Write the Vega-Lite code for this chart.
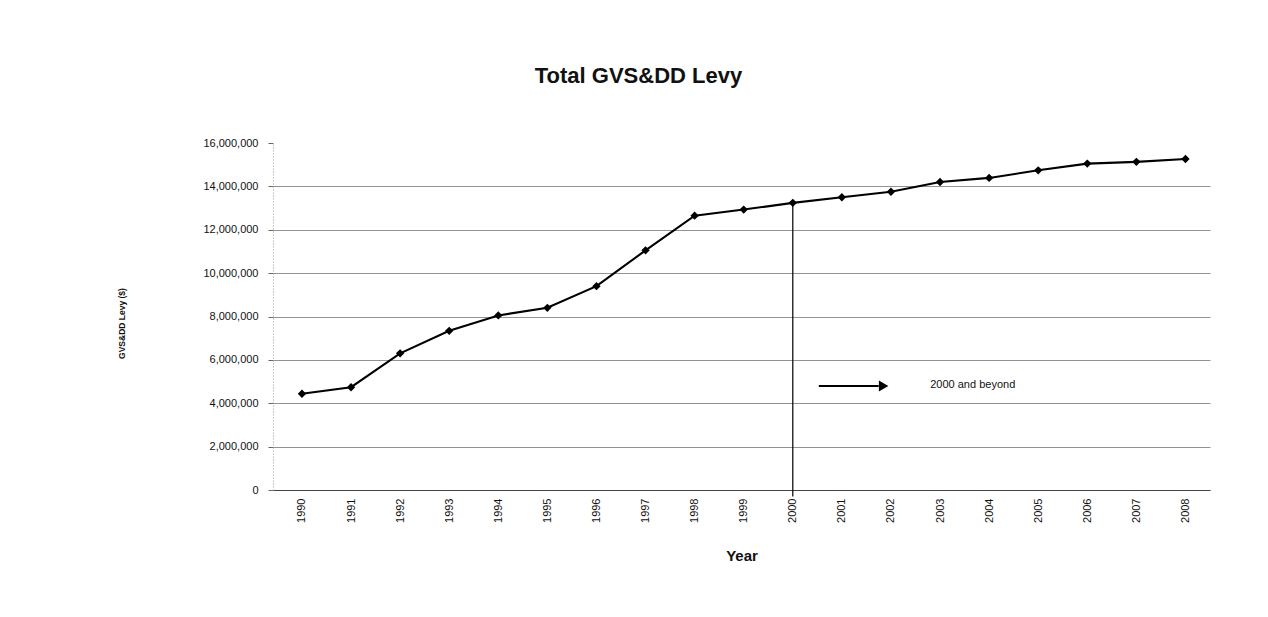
{
  "$schema": "https://vega.github.io/schema/vega-lite/v6.json",
  "width": 937,
  "height": 347,
  "autosize": "none",
  "padding": {"left": 273, "top": 143, "right": 58, "bottom": 127},
  "background": "white",
  "config": {"view": {"stroke": null}, "font": "Liberation Sans"},
  "title": {"text": "Total GVS&DD Levy", "fontSize": 22, "fontWeight": "bold", "font": "Liberation Sans", "color": "#111", "anchor": "middle", "dx": -103, "offset": 32, "baseline": "alphabetic"},
  "datasets": {
    "levy": [
      {"year": 1990, "levy": 4440000},
      {"year": 1991, "levy": 4740000},
      {"year": 1992, "levy": 6300000},
      {"year": 1993, "levy": 7340000},
      {"year": 1994, "levy": 8050000},
      {"year": 1995, "levy": 8400000},
      {"year": 1996, "levy": 9400000},
      {"year": 1997, "levy": 11050000},
      {"year": 1998, "levy": 12650000},
      {"year": 1999, "levy": 12930000},
      {"year": 2000, "levy": 13240000},
      {"year": 2001, "levy": 13500000},
      {"year": 2002, "levy": 13750000},
      {"year": 2003, "levy": 14200000},
      {"year": 2004, "levy": 14390000},
      {"year": 2005, "levy": 14740000},
      {"year": 2006, "levy": 15050000},
      {"year": 2007, "levy": 15130000},
      {"year": 2008, "levy": 15260000}
    ],
    "marker": [{"year": 2000, "levy": 13240000, "base": -300000}],
    "arrow": [{"x1": 2000.53, "x2": 2001.75, "y": 4800000}],
    "head": [{"x": 2001.85, "y": 4800000}],
    "note": [{"x": 2002.8, "y": 4850000, "label": "2000 and beyond"}]
  },
  "layer": [
    {
      "data": {"name": "levy"},
      "mark": {"type": "line", "color": "black", "strokeWidth": 2.1},
      "encoding": {
        "x": {
          "field": "year", "type": "quantitative",
          "scale": {"domain": [1989.41, 2008.5], "nice": false, "zero": false},
          "axis": {
            "title": "Year", "titleFontSize": 15, "titleFontWeight": "bold", "titleColor": "#111",
            "titleY": 65, "titleBaseline": "middle",
            "values": [1990, 1991, 1992, 1993, 1994, 1995, 1996, 1997, 1998, 1999, 2000, 2001, 2002, 2003, 2004, 2005, 2006, 2007, 2008],
            "format": "d", "labelAngle": -90, "labelFontSize": 11, "labelColor": "#111", "labelPadding": 8,
            "labelFlush": false, "labelOverlap": false, "grid": false, "ticks": false, "domainColor": "#444"
          }
        },
        "y": {
          "field": "levy", "type": "quantitative",
          "scale": {"domain": [0, 16000000], "nice": false, "zero": true},
          "axis": {
            "title": "GVS&DD Levy ($)", "titleFontSize": 8.5, "titleFontWeight": "bold", "titleColor": "#111",
            "titleX": -152, "titleY": 180, "titleBaseline": "middle", "titleAngle": -90,
            "values": [0, 2000000, 4000000, 6000000, 8000000, 10000000, 12000000, 14000000, 16000000],
            "format": ",.0f", "labelFontSize": 11, "labelColor": "#111", "labelPadding": 10,
            "tickSize": 5, "tickColor": "#666", "domainColor": "#999", "domainDash": [1, 2],
            "grid": true, "gridWidth": 0.8,
            "gridColor": {"condition": {"test": "datum.value >= 16000000", "value": "transparent"}, "value": "#777"}
          }
        }
      }
    },
    {
      "data": {"name": "levy"},
      "mark": {"type": "point", "filled": true, "shape": "diamond", "size": 70, "color": "black", "opacity": 1},
      "encoding": {
        "x": {"field": "year", "type": "quantitative"},
        "y": {"field": "levy", "type": "quantitative"}
      }
    },
    {
      "data": {"name": "marker"},
      "mark": {"type": "rule", "color": "black", "strokeWidth": 1.2},
      "encoding": {
        "x": {"field": "year", "type": "quantitative"},
        "y": {"field": "levy", "type": "quantitative"},
        "y2": {"field": "base"}
      }
    },
    {
      "data": {"name": "arrow"},
      "mark": {"type": "rule", "color": "black", "strokeWidth": 2},
      "encoding": {
        "x": {"field": "x1", "type": "quantitative"},
        "x2": {"field": "x2"},
        "y": {"field": "y", "type": "quantitative"}
      }
    },
    {
      "data": {"name": "head"},
      "mark": {"type": "point", "filled": true, "shape": "triangle-right", "size": 120, "color": "black", "opacity": 1},
      "encoding": {
        "x": {"field": "x", "type": "quantitative"},
        "y": {"field": "y", "type": "quantitative"}
      }
    },
    {
      "data": {"name": "note"},
      "mark": {"type": "text", "align": "left", "baseline": "middle", "fontSize": 11, "color": "#111"},
      "encoding": {
        "x": {"field": "x", "type": "quantitative"},
        "y": {"field": "y", "type": "quantitative"},
        "text": {"field": "label"}
      }
    }
  ]
}
